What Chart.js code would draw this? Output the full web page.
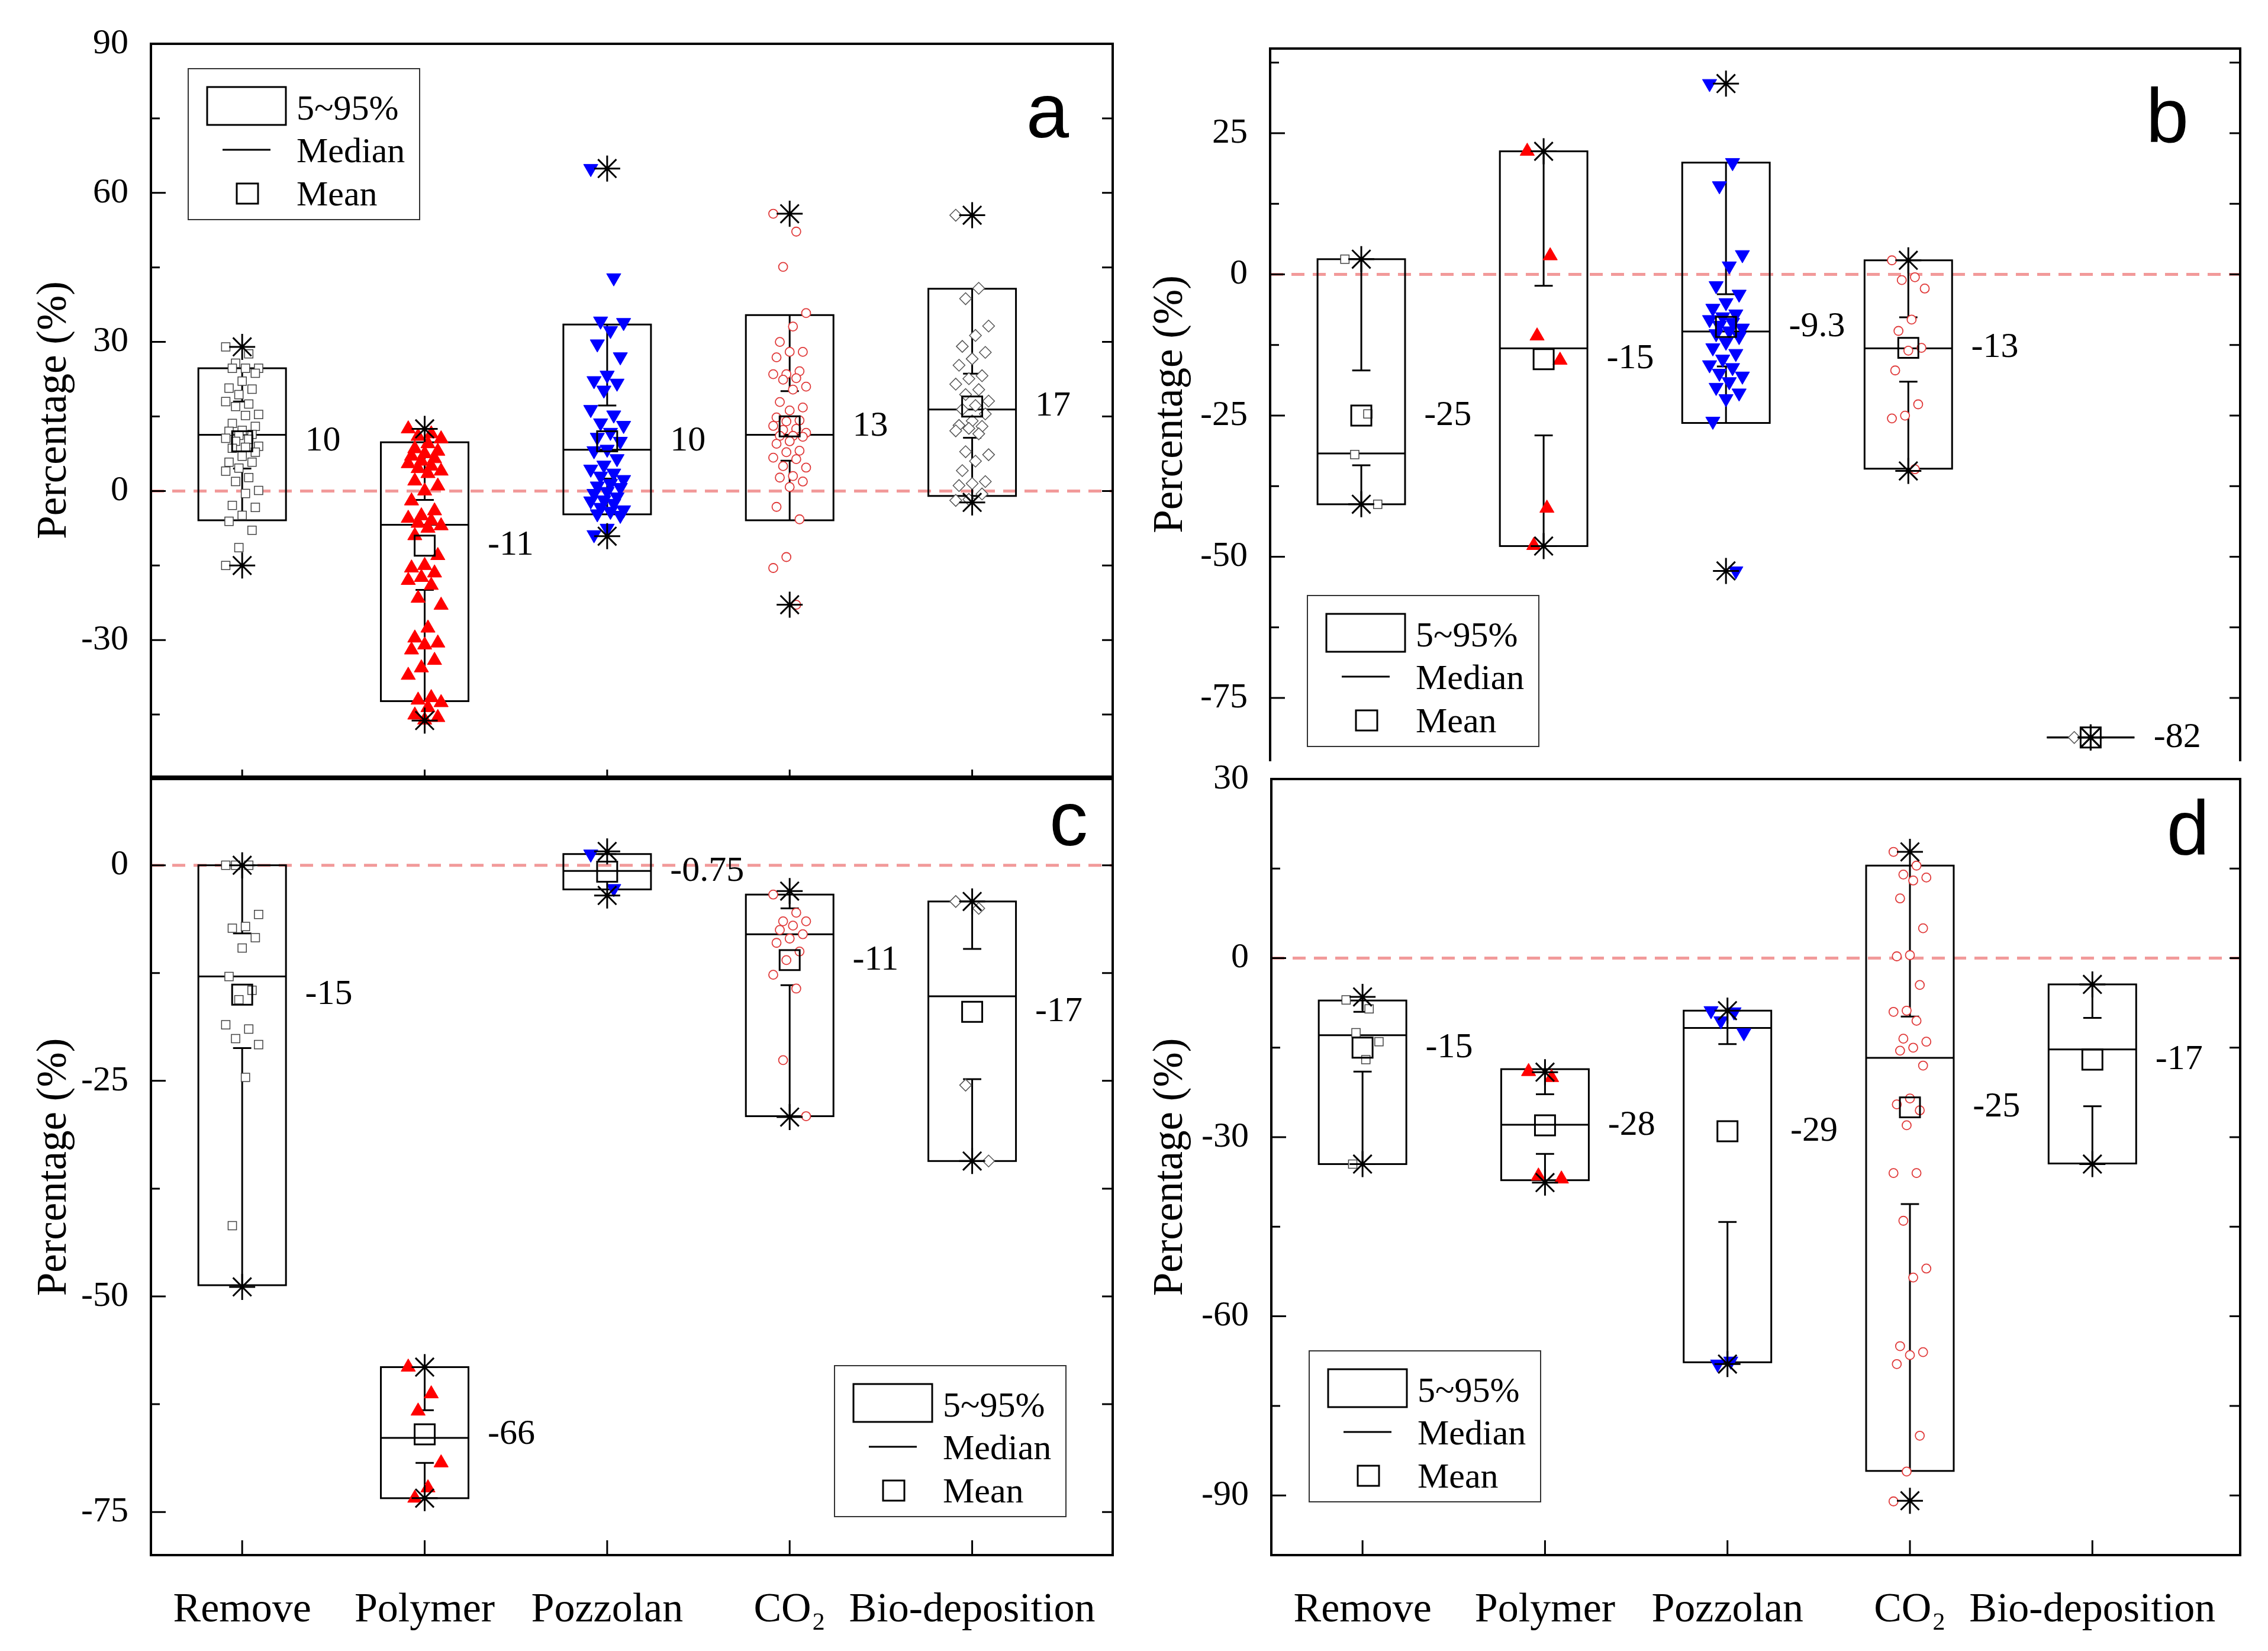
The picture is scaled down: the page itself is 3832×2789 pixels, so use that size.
<!DOCTYPE html>
<html>
<head>
<meta charset="utf-8">
<script src="https://cdn.jsdelivr.net/npm/chart.js@4.4.1/dist/chart.umd.min.js"></script>
<style>
  html, body { margin: 0; padding: 0; background: #fff; }
  body { width: 3832px; height: 2789px; position: relative; overflow: hidden; }
  canvas { position: absolute; }
</style>
</head>
<body>
<canvas id="panelA"></canvas>
<canvas id="panelB"></canvas>
<canvas id="panelC"></canvas>
<canvas id="panelD"></canvas>
<script>
const categories = ['Remove', 'Polymer', 'Pozzolan', 'CO₂', 'Bio-deposition'];

// panel a
const aTicks = [90, 60, 30, 0, -30];
const aMinorTicks = [75, 45, 15, -15, -45];
const aBoxLow = [-5.9, -42.3, -4.7, -5.9, -1.0];
const aBoxHigh = [24.7, 9.8, 33.5, 35.4, 40.7];
const aMedian = [11.3, -6.8, 8.3, 11.3, 16.4];
const aMean = [10, -11, 10, 13, 17];
const aCapLow = [4.5, -19.9, 2.5, 6.1, 10.7];
const aCapHigh = [18, -1.8, 17.2, 20.1, 23.6];
const aMin = [-15, -46.2, -9.1, -22.9, -2.3];
const aMax = [29, 12.5, 64.9, 55.8, 55.5];
const aRemove = [29.0, 27.6, 25.7, 24.7, 24.7, 24.7, 23.7, 22.1, 20.7, 20.5, 19.4, 18.0, 17.5, 17.0, 15.4, 15.2, 13.6, 13.0, 12.2, 12.0, 11.4, 11.2, 10.6, 10.4, 10.0, 9.0, 8.8, 8.6, 7.8, 7.0, 5.8, 5.8, 4.6, 4.0, 2.7, 1.9, 0.1, -0.5, -2.9, -3.3, -4.9, -6.1, -7.9, -11.4, -15.0];
const aPolymer = [12.5, 11.5, 11, 10.5, 9.5, 8.5, 8, 7.5, 7, 6.5, 6, 5.5, 5, 4.5, 4, 3.5, 2, 1, 0, -2, -4, -5, -5.5, -6, -6.5, -7, -7.5, -9, -13, -15, -15.5, -16.5, -17.4, -18, -19, -21.6, -23, -27.6, -29.6, -30.6, -31, -32, -34.1, -35.6, -37.1, -41.6, -42.1, -42.6, -43.6, -45.1, -45.6, -46.1];
const aPozzolan = [64.9, 42.9, 34.2, 33.9, 32.3, 29.6, 27, 23.3, 22.2, 21.7, 20.3, 16.4, 15.3, 13.7, 13.2, 11.8, 10.8, 10, 8.4, 8.1, 6.5, 5.2, 4.4, 3.6, 3, 2.3, 1.5, 1, 0.7, -0.1, -0.5, -1.2, -1.8, -2, -2.5, -3.3, -3.8, -4.1, -4.6, -4.9, -7.5, -8.8];
const aCO2 = [55.8, 52.2, 45.1, 35.8, 33.1, 30, 28, 28, 26.9, 24.1, 23.5, 23.5, 22.7, 22.4, 21, 20.4, 17.9, 16.8, 16.2, 14.8, 14.2, 14, 13.1, 12.5, 12.3, 11.7, 11.1, 11.1, 10.9, 10, 9.5, 8.1, 7.8, 6.7, 6.4, 5, 4.7, 3, 2.7, 1.9, 0.8, -3.2, -5.7, -13.3, -15.5, -22.9];
const aBio = [55.5, 40.8, 38.7, 33.2, 31.3, 29.1, 27.9, 26.6, 25.3, 23.2, 22.6, 21.5, 20.4, 19.4, 18.1, 17.2, 16.4, 15.5, 14.1, 13.2, 13, 12.6, 12.1, 11.5, 7.9, 7.3, 6, 4.1, 1.9, 1.5, 1.1, -0.6, -1.7, -1.9];

// panel b
const bTicks = [25, 0, -25, -50, -75];
const bMinorTicks = [37.5, 12.5, -12.5, -37.5, -62.5];
const bBoxLow = [-40.7, -48.1, -26.3, -34.4, -82];
const bBoxHigh = [2.7, 21.8, 19.8, 2.5, -82];
const bMedian = [-31.7, -13.1, -10.1, -13.1, -82];
const bMean = [-25, -15, -9.3, -13, -82];
const bCapLow = [-33.8, -28.5, -16.3, -19, -82];
const bCapHigh = [-17.0, -2.0, -3.5, -7.6, -82];
const bMin = [-40.7, -48.1, -52.5, -34.8, -82];
const bMax = [2.7, 21.8, 33.8, 2.5, -82];
const bRemove = [2.7, -24.7, -31.9, -40.7];
const bPolymer = [21.8, 3.3, -10.9, -15.2, -41.4, -48];
const bPozzolan = [33.8, 19.8, 15.7, 3.5, 1.5, -2, -3.5, -5, -6, -7, -7.5, -8, -8.5, -9, -9.5, -10, -10.5, -11, -12, -13, -14, -15, -16, -16.5, -17.5, -18, -19, -20, -21, -22, -26, -52.5];
const bCO2 = [2.5, -0.5, -1, -2.5, -8, -10, -13, -13.5, -17, -23, -25, -25.5, -34.5];
const bBio = [-82];

// panel c
const cTicks = [0, -25, -50, -75];
const cMinorTicks = [-12.5, -37.5, -62.5];
const cBoxLow = [-48.7, -73.4, -2.8, -29.1, -34.3];
const cBoxHigh = [0, -58.2, 1.3, -3.4, -4.2];
const cMedian = [-12.9, -66.4, -0.66, -8.0, -15.2];
const cMean = [-15, -66, -0.75, -11, -17];
const cCapLow = [-21.2, -69.3, -2.8, -13.9, -24.8];
const cCapHigh = [-7.9, -63.2, 1.3, -5, -9.7];
const cMin = [-48.9, -73.4, -3.5, -29.2, -34.3];
const cMax = [0, -58.2, 1.6, -3, -4.2];
const cRemove = [0, 0, 0, -5.7, -7.1, -7.3, -8.4, -9.6, -12.9, -14.5, -15.6, -18.5, -19, -20.1, -20.8, -24.6, -41.8];
const cPolymer = [-58.2, -61.3, -63.3, -69.3, -72.2, -73.4];
const cPozzolan = [1.3, -2.7];
const cCO2 = [-3.4, -5.5, -6.5, -6.5, -7, -7.5, -8, -8.5, -9, -10, -11, -12.7, -14.3, -22.6, -29.1];
const cBio = [-4.2, -5, -25.5, -34.3];

// panel d
const dTicks = [30, 0, -30, -60, -90];
const dMinorTicks = [15, -15, -45, -75];
const dBoxLow = [-34.5, -37.2, -67.7, -85.9, -34.4];
const dBoxHigh = [-7.1, -18.6, -8.8, 15.5, -4.4];
const dMedian = [-12.9, -27.9, -11.7, -16.7, -15.3];
const dMean = [-15, -28, -29, -25, -17];
const dCapLow = [-19, -32.8, -44.2, -41.2, -24.8];
const dCapHigh = [-9, -22.8, -14.4, -9.8, -10];
const dMin = [-34.5, -37.6, -68, -90.9, -34.5];
const dMax = [-6.5, -19.1, -8.8, 17.8, -4.4];
const dRemove = [-7, -8.5, -12.5, -14, -17, -34.5];
const dPolymer = [-19, -20, -36.5, -37];
const dPozzolan = [-8.8, -9, -10.5, -12.5, -67.5, -68];
const dCO2 = [17.8, 15.5, 14, 13.5, 13, 10, 5, 0.5, 0.3, -4.5, -8.8, -9, -10.5, -13.5, -14, -15, -15.5, -18, -23.5, -24.5, -25.5, -28, -36, -36, -44, -52, -53.5, -65, -66, -66.5, -68, -80, -86, -91];
const dBio = [];

const serif = '"Liberation Serif", "Times New Roman", serif';

const pointLooks = [
  { pointStyle: 'rect', pointRadius: 10, pointBackgroundColor: '#fff', pointBorderColor: '#444', pointBorderWidth: 1.5 },
  { pointStyle: 'triangle', pointRadius: 14, pointBackgroundColor: '#ff0000', pointBorderColor: '#ff0000', pointBorderWidth: 1 },
  { pointStyle: 'triangle', pointRotation: 180, pointRadius: 14, pointBackgroundColor: '#0000ff', pointBorderColor: '#0000ff', pointBorderWidth: 1 },
  { pointStyle: 'circle', pointRadius: 7.5, pointBackgroundColor: '#fff', pointBorderColor: '#e03a3a', pointBorderWidth: 1.8 },
  { pointStyle: 'rectRot', pointRadius: 10, pointBackgroundColor: '#fff', pointBorderColor: '#555', pointBorderWidth: 1.5 }
];

// small horizontal spread of the scatter points around the category centre
function jitter(i) { return (((i * 7) % 11) - 5) * 0.018; }

// the y axis keeps (label height / 2 + tick padding) = 66px under the chart area,
// so the top panels get canvases 66px taller than their plot bottoms
const panels = {
  panelA: {
    letter: 'a', box: [0, 0, 1920, 1378], yW: 255, pad: { top: 74, right: 40, bottom: 0 }, xLabels: false,
    yMin: -57.5, yMax: 90, xMax: 5.77, ticks: aTicks, minor: aMinorTicks,
    low: aBoxLow, high: aBoxHigh, median: aMedian, mean: aMean, capLow: aCapLow, capHigh: aCapHigh, min: aMin, max: aMax,
    points: [aRemove, aPolymer, aPozzolan, aCO2, aBio],
    legend: ca => [ca.left + 63, ca.top + 42], letterAt: ca => [ca.right - 74, ca.top + 158],
    bottomBorder: true, bottomTick: 12, titleX: 92
  },
  panelB: {
    letter: 'b', box: [1880, 0, 1952, 1350], yW: 266, pad: { top: 82, right: 47, bottom: 0 }, xLabels: false,
    yMin: -86, yMax: 40, xMax: 5.82, ticks: bTicks, minor: bMinorTicks,
    low: bBoxLow, high: bBoxHigh, median: bMedian, mean: bMean, capLow: bCapLow, capHigh: bCapHigh, min: bMin, max: bMax,
    points: [bRemove, bPolymer, bPozzolan, bCO2, bBio],
    legend: ca => [ca.left + 63, ca.bottom - 278], letterAt: ca => [ca.right - 87, ca.top + 158],
    bottomBorder: false, bottomTick: 0, titleX: 98
  },
  panelC: {
    letter: 'c', box: [0, 1250, 1920, 1539], yW: 255, pad: { top: 62, right: 40, bottom: 0 }, xLabels: true,
    yMin: -80, yMax: 10, xMax: 5.77, ticks: cTicks, minor: cMinorTicks,
    low: cBoxLow, high: cBoxHigh, median: cMedian, mean: cMean, capLow: cCapLow, capHigh: cCapHigh, min: cMin, max: cMax,
    points: [cRemove, cPolymer, cPozzolan, cCO2, cBio],
    legend: ca => [ca.right - 470, ca.bottom - 320], letterAt: ca => [ca.right - 42, ca.top + 112],
    bottomBorder: true, bottomTick: 25, titleX: 92
  },
  panelD: {
    letter: 'd', box: [1880, 1250, 1952, 1539], yW: 268, pad: { top: 62, right: 47, bottom: 0 }, xLabels: true,
    yMin: -100, yMax: 30, xMax: 5.81, ticks: dTicks, minor: dMinorTicks,
    low: dBoxLow, high: dBoxHigh, median: dMedian, mean: dMean, capLow: dCapLow, capHigh: dCapHigh, min: dMin, max: dMax,
    points: [dRemove, dPolymer, dPozzolan, dCO2, dBio],
    legend: ca => [ca.left + 64, ca.bottom - 345], letterAt: ca => [ca.right - 52, ca.top + 127],
    bottomBorder: true, bottomTick: 25, titleX: 98
  }
};

function drawLegend(ctx, lx, ly) {
  ctx.save();
  ctx.lineWidth = 2;
  ctx.strokeStyle = '#333';
  ctx.strokeRect(lx, ly, 391, 255);
  ctx.lineWidth = 3;
  ctx.strokeStyle = '#000';
  ctx.strokeRect(lx + 32, ly + 31, 133, 64);
  ctx.beginPath();
  ctx.moveTo(lx + 58, ly + 137);
  ctx.lineTo(lx + 139, ly + 137);
  ctx.stroke();
  ctx.strokeRect(lx + 82, ly + 194, 36, 34);
  ctx.fillStyle = '#000';
  ctx.font = '60px ' + serif;
  ctx.textAlign = 'left';
  ctx.textBaseline = 'alphabetic';
  ctx.fillText('5~95%', lx + 183, ly + 86);
  ctx.fillText('Median', lx + 183, ly + 158);
  ctx.fillText('Mean', lx + 183, ly + 231);
  ctx.restore();
}

const boxPanel = {
  id: 'boxPanel',
  beforeDatasetsDraw(chart) {
    const p = panels[chart.canvas.id];
    const { ctx, chartArea: ca } = chart;
    const x = chart.scales.x, y = chart.scales.y;
    ctx.save();
    // zero reference line
    const y0 = y.getPixelForValue(0);
    ctx.strokeStyle = '#f29a9a';
    ctx.lineWidth = 5;
    ctx.setLineDash([22, 14]);
    ctx.beginPath();
    ctx.moveTo(ca.left, y0);
    ctx.lineTo(ca.right, y0);
    ctx.stroke();
    ctx.setLineDash([]);
    // boxes, medians and whiskers
    ctx.strokeStyle = '#000';
    ctx.lineWidth = 3;
    const halfBox = x.getPixelForValue(1.24) - x.getPixelForValue(1);
    const halfCap = x.getPixelForValue(1.05) - x.getPixelForValue(1);
    categories.forEach((c, i) => {
      const xc = x.getPixelForValue(i + 1);
      const yt = y.getPixelForValue(p.high[i]);
      const yb = y.getPixelForValue(p.low[i]);
      const ym = y.getPixelForValue(p.median[i]);
      const ch = y.getPixelForValue(p.capHigh[i]);
      const cl = y.getPixelForValue(p.capLow[i]);
      ctx.strokeRect(xc - halfBox, yt, 2 * halfBox, yb - yt);
      ctx.beginPath();
      ctx.moveTo(xc - halfBox, ym); ctx.lineTo(xc + halfBox, ym);
      ctx.moveTo(xc, yt); ctx.lineTo(xc, ch);
      ctx.moveTo(xc - halfCap, ch); ctx.lineTo(xc + halfCap, ch);
      ctx.moveTo(xc, yb); ctx.lineTo(xc, cl);
      ctx.moveTo(xc - halfCap, cl); ctx.lineTo(xc + halfCap, cl);
      ctx.stroke();
    });
    ctx.restore();
  },
  afterDatasetsDraw(chart) {
    const p = panels[chart.canvas.id];
    const ctx = chart.ctx;
    const x = chart.scales.x, y = chart.scales.y;
    ctx.save();
    ctx.fillStyle = '#000';
    ctx.font = '60px ' + serif;
    ctx.textAlign = 'left';
    ctx.textBaseline = 'middle';
    p.mean.forEach((m, i) => {
      ctx.fillText(String(m), x.getPixelForValue(i + 1.345), y.getPixelForValue(m));
    });
    ctx.restore();
  },
  afterDraw(chart) {
    const p = panels[chart.canvas.id];
    const { ctx, chartArea: ca } = chart;
    const x = chart.scales.x, y = chart.scales.y;
    ctx.save();
    ctx.strokeStyle = '#000';
    ctx.lineWidth = 4;
    ctx.lineCap = 'square';
    ctx.beginPath();
    ctx.moveTo(ca.left, ca.bottom);
    ctx.lineTo(ca.left, ca.top);
    ctx.lineTo(ca.right, ca.top);
    ctx.lineTo(ca.right, ca.bottom);
    if (p.bottomBorder) ctx.lineTo(ca.left, ca.bottom);
    ctx.stroke();
    ctx.lineCap = 'butt';
    ctx.lineWidth = 3;
    ctx.beginPath();
    p.ticks.forEach(v => {
      const yv = y.getPixelForValue(v);
      ctx.moveTo(ca.left, yv); ctx.lineTo(ca.left + 25, yv);
      ctx.moveTo(ca.right, yv); ctx.lineTo(ca.right - 18, yv);
    });
    p.minor.forEach(v => {
      const yv = y.getPixelForValue(v);
      ctx.moveTo(ca.left, yv); ctx.lineTo(ca.left + 15, yv);
      ctx.moveTo(ca.right, yv); ctx.lineTo(ca.right - 18, yv);
    });
    if (p.bottomTick) {
      categories.forEach((c, i) => {
        const xc = x.getPixelForValue(i + 1);
        ctx.moveTo(xc, ca.bottom); ctx.lineTo(xc, ca.bottom - p.bottomTick);
      });
    }
    ctx.stroke();
    const [lx, ly] = p.legend(ca);
    drawLegend(ctx, lx, ly);
    const [tx, ty] = p.letterAt(ca);
    ctx.fillStyle = '#000';
    ctx.font = '130px "Liberation Sans", Arial, sans-serif';
    ctx.textAlign = 'right';
    ctx.textBaseline = 'alphabetic';
    ctx.fillText(p.letter, tx, ty);
    ctx.restore();
  }
};

function buildChart(id) {
  const p = panels[id];
  const canvas = document.getElementById(id);
  const [left, top, width, height] = p.box;
  canvas.width = width;
  canvas.height = height;
  canvas.style.left = left + 'px';
  canvas.style.top = top + 'px';
  canvas.style.width = width + 'px';
  canvas.style.height = height + 'px';

  const datasets = [];
  datasets.push({
    label: 'Max/Min',
    data: p.max.map((v, i) => ({ x: i + 1, y: v })).concat(p.min.map((v, i) => ({ x: i + 1, y: v }))),
    pointStyle: 'star', pointRadius: 22, pointBorderColor: '#000', pointBorderWidth: 3,
    pointBackgroundColor: 'rgba(0,0,0,0)', order: 0
  });
  datasets.push({
    label: 'Mean',
    data: p.mean.map((v, i) => ({ x: i + 1, y: v })),
    pointStyle: 'rect', pointRadius: 24, pointBorderColor: '#000', pointBorderWidth: 3,
    pointBackgroundColor: 'rgba(0,0,0,0)', order: 1
  });
  p.points.forEach((vals, ci) => {
    datasets.push(Object.assign({
      label: categories[ci],
      data: vals.map((v, i) => ({ x: ci + 1 + jitter(i), y: v })),
      order: 2
    }, pointLooks[ci]));
  });

  new Chart(canvas, {
    type: 'scatter',
    data: { datasets },
    options: {
      responsive: false,
      animation: false,
      devicePixelRatio: 1,
      events: [],
      layout: { autoPadding: false, padding: { left: 0, top: p.pad.top, right: p.pad.right, bottom: p.pad.bottom } },
      plugins: { legend: { display: false }, tooltip: { enabled: false } },
      scales: {
        x: {
          type: 'linear', min: 0.5, max: p.xMax, display: p.xLabels,
          grid: { display: false }, border: { display: false },
          afterBuildTicks: ax => { ax.ticks = categories.map((c, i) => ({ value: i + 1 })); },
          afterFit: ax => { ax.height = p.xLabels ? 162 : 0; },
          ticks: {
            display: p.xLabels,
            callback: v => categories[v - 1] || '',
            font: { family: serif, size: 70 }, color: '#000', padding: 44,
            maxRotation: 0, autoSkip: false
          }
        },
        y: {
          type: 'linear', min: p.yMin, max: p.yMax,
          grid: { display: false }, border: { display: false },
          afterBuildTicks: ax => { ax.ticks = p.ticks.map(v => ({ value: v })); },
          afterFit: ax => { ax.width = p.yW; },
          ticks: { callback: v => String(v), font: { family: serif, size: 60 }, color: '#000', padding: 30 },
          title: {
            display: true, text: 'Percentage (%)', color: '#000',
            font: { family: serif, size: 71 }, padding: { top: p.titleX - 42.6, bottom: 0 }
          }
        }
      }
    },
    plugins: [boxPanel]
  });
}

['panelA', 'panelB', 'panelC', 'panelD'].forEach(buildChart);
</script>
</body>
</html>
